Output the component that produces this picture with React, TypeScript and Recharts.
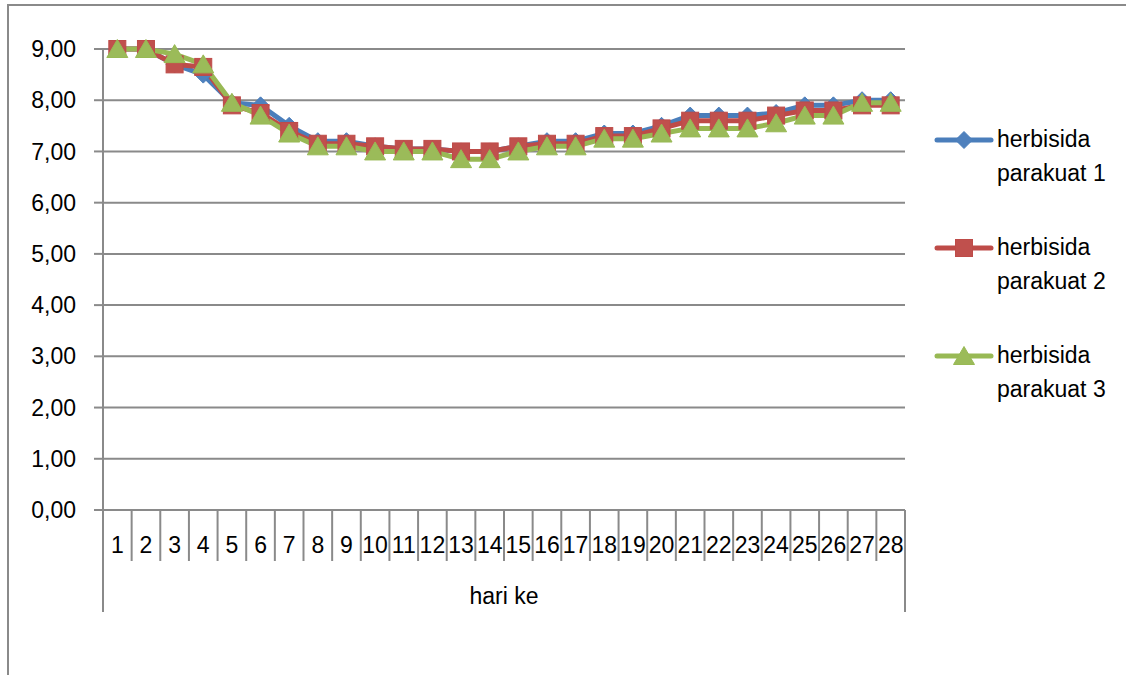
import React from 'react';
import { LineChart, Line, XAxis, YAxis, CartesianGrid } from 'recharts';

// Days of observation and pH readings per herbicide treatment
const DAYS = [
  '1', '2', '3', '4', '5', '6', '7', '8', '9', '10', '11', '12', '13', '14',
  '15', '16', '17', '18', '19', '20', '21', '22', '23', '24', '25', '26', '27', '28',
];
const PARAKUAT_1 = [
  9.0, 9.0, 8.7, 8.5, 7.95, 7.9, 7.5, 7.2, 7.2, 7.1, 7.05, 7.05, 7.0, 7.0,
  7.1, 7.2, 7.2, 7.35, 7.35, 7.5, 7.7, 7.7, 7.7, 7.75, 7.9, 7.9, 8.0, 8.0,
];
const PARAKUAT_2 = [
  9.0, 9.0, 8.7, 8.65, 7.9, 7.75, 7.4, 7.15, 7.15, 7.1, 7.05, 7.05, 7.0, 7.0,
  7.1, 7.15, 7.15, 7.3, 7.3, 7.45, 7.6, 7.6, 7.6, 7.7, 7.8, 7.8, 7.9, 7.9,
];
const PARAKUAT_3 = [
  9.0, 9.0, 8.9, 8.7, 7.95, 7.7, 7.35, 7.1, 7.1, 7.0, 7.0, 7.0, 6.85, 6.85,
  7.0, 7.1, 7.1, 7.25, 7.25, 7.35, 7.45, 7.45, 7.45, 7.55, 7.7, 7.7, 7.95, 7.95,
];
const Y_TICKS = [0, 1, 2, 3, 4, 5, 6, 7, 8, 9];

const SERIES = [
  { key: 'p1', name: ['herbisida', 'parakuat 1'], line: '#4A7EBB', fill: '#4F81BD', shape: 'diamond' },
  { key: 'p2', name: ['herbisida', 'parakuat 2'], line: '#BE4B48', fill: '#C0504D', shape: 'square' },
  { key: 'p3', name: ['herbisida', 'parakuat 3'], line: '#98B954', fill: '#9BBB59', shape: 'triangle' },
];

const data = DAYS.map((day, i) => ({
  day,
  p1: PARAKUAT_1[i],
  p2: PARAKUAT_2[i],
  p3: PARAKUAT_3[i],
}));

const FONT = '"Liberation Sans", Arial, sans-serif';
const GRID = '#8a8a8a';
const WIDTH = 1126;
const HEIGHT = 675;
const PLOT_LEFT = 103;
const PLOT_RIGHT = 905;
const BAND = (PLOT_RIGHT - PLOT_LEFT) / DAYS.length;

function Marker({ shape, cx, cy, fill, stroke }: any) {
  if (shape === 'diamond') {
    return (
      <polygon
        points={`${cx},${cy - 8.5} ${cx + 8.5},${cy} ${cx},${cy + 8.5} ${cx - 8.5},${cy}`}
        fill={fill}
        stroke={stroke}
        strokeWidth={1}
      />
    );
  }
  if (shape === 'square') {
    return <rect x={cx - 8.5} y={cy - 8.5} width={17} height={17} fill={fill} stroke={stroke} strokeWidth={1} />;
  }
  return (
    <polygon
      points={`${cx},${cy - 9.5} ${cx + 10.5},${cy + 8.5} ${cx - 10.5},${cy + 8.5}`}
      fill={fill}
      stroke={stroke}
      strokeWidth={1}
    />
  );
}

const makeDot = (s: typeof SERIES[number]) => (props: any) => {
  const { cx, cy, index } = props;
  if (cx == null || cy == null) return <g key={`${s.key}-${index}`} />;
  return (
    <g key={`${s.key}-${index}`}>
      <Marker shape={s.shape} cx={cx} cy={cy} fill={s.fill} stroke={s.line} />
    </g>
  );
};

// Day numbers sit in boxed cells, with the outer cell walls running down past the axis title
function DayTick(props: any) {
  const { x, y, payload, index } = props;
  const half = BAND / 2;
  const last = index === DAYS.length - 1;
  return (
    <g>
      <text x={x} y={y + 43} textAnchor="middle" fontSize={23} fontFamily={FONT} fill="#000">
        {payload.value}
      </text>
      {index === 0 && <line x1={x - half} y1={y} x2={x - half} y2={y + 102} stroke={GRID} strokeWidth={2} />}
      <line x1={x + half} y1={y} x2={x + half} y2={last ? y + 102 : y + 51} stroke={GRID} strokeWidth={2} />
    </g>
  );
}

function LegendBlock() {
  return (
    <svg width={WIDTH} height={HEIGHT} style={{ position: 'absolute', left: 0, top: 0, pointerEvents: 'none' }}>
      {SERIES.map((s, i) => {
        const cy = 140 + i * 108;
        return (
          <g key={s.key}>
            <line x1={937} y1={cy} x2={991} y2={cy} stroke={s.line} strokeWidth={5} strokeLinecap="round" />
            <Marker shape={s.shape} cx={964} cy={cy} fill={s.fill} stroke={s.line} />
            <text x={997} y={cy + 7} fontSize={23} fontFamily={FONT} fill="#000">
              <tspan x={997}>{s.name[0]}</tspan>
              <tspan x={997} dy={34}>{s.name[1]}</tspan>
            </text>
          </g>
        );
      })}
    </svg>
  );
}

export default function App() {
  return (
    <div
      style={{
        position: 'fixed',
        left: 0,
        top: 0,
        width: WIDTH,
        height: HEIGHT,
        overflow: 'hidden',
        background: '#fff',
      }}
    >
      {/* chart frame, only the top and left edges fall inside the page */}
      <div
        style={{
          position: 'absolute',
          left: 7,
          top: 4,
          width: 1400,
          height: 1000,
          borderTop: `2px solid ${GRID}`,
          borderLeft: `2px solid ${GRID}`,
        }}
      />
      <LineChart
        width={WIDTH}
        height={HEIGHT}
        data={data}
        margin={{ top: 49, right: WIDTH - PLOT_RIGHT, bottom: 63, left: 0 }}
        style={{ position: 'absolute', left: 0, top: 0 }}
      >
        <CartesianGrid vertical={false} stroke={GRID} strokeWidth={2} />
        <XAxis
          dataKey="day"
          interval={0}
          height={102}
          padding={{ left: BAND / 2, right: BAND / 2 }}
          axisLine={{ stroke: GRID, strokeWidth: 2 }}
          tickLine={false}
          tickSize={0}
          tickMargin={0}
          tick={<DayTick />}
          label={{
            value: 'hari ke',
            position: 'insideBottom',
            offset: 8,
            fontSize: 23,
            fontFamily: FONT,
            fill: '#000',
          }}
        />
        <YAxis
          width={PLOT_LEFT}
          domain={[0, 9]}
          ticks={Y_TICKS}
          interval={0}
          axisLine={{ stroke: GRID, strokeWidth: 2 }}
          tickLine={{ stroke: GRID, strokeWidth: 2 }}
          tickSize={9}
          tickMargin={18}
          tick={{ fontSize: 23, fontFamily: FONT, fill: '#000' }}
          tickFormatter={(v: number) => v.toFixed(2).replace('.', ',')}
        />
        {SERIES.map((s) => (
          <Line
            key={s.key}
            type="linear"
            dataKey={s.key}
            name={s.name.join(' ')}
            stroke={s.line}
            strokeWidth={5}
            dot={makeDot(s)}
            activeDot={false}
            isAnimationActive={false}
          />
        ))}
      </LineChart>
      <LegendBlock />
    </div>
  );
}
